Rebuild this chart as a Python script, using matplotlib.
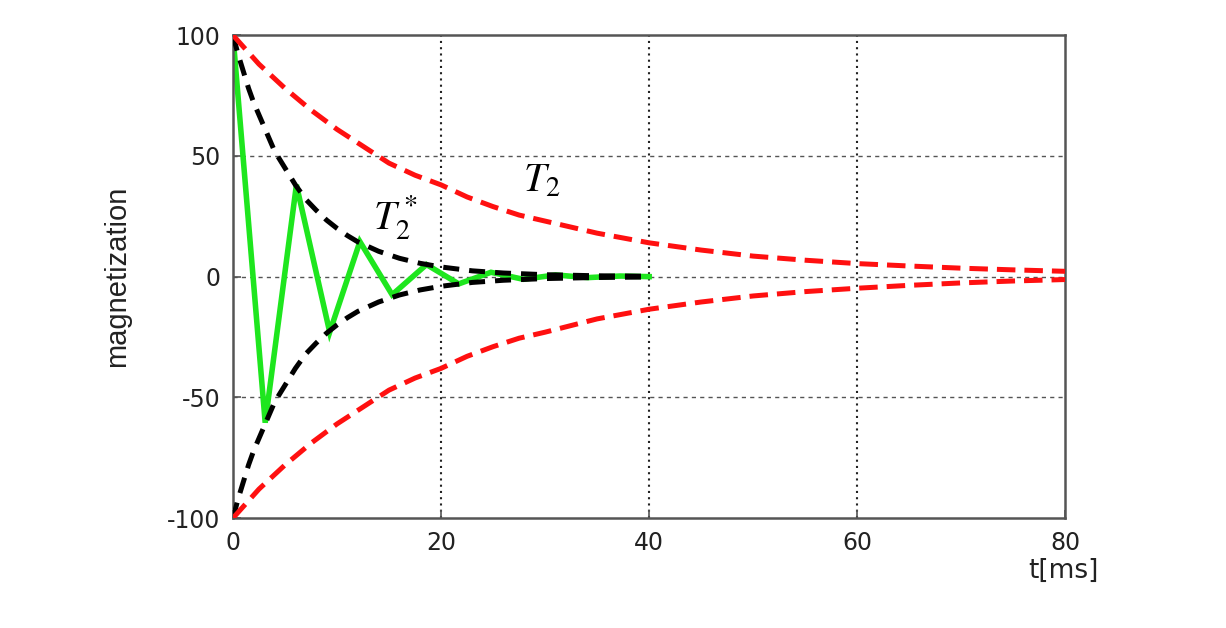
import matplotlib
matplotlib.use("Agg")
import matplotlib.pyplot as plt

# ---- data ----
t_red = [0, 2.5, 5, 7.5, 10, 12.5, 15, 17.5, 20, 22.5, 25, 27.5, 30, 35, 40, 45, 50, 55, 60, 65, 70, 75, 80]
red_upper = [100, 88, 78, 69, 61, 54, 47, 42, 38, 33, 29, 25.5, 23, 18, 14, 11, 8.5, 6.8, 5.4, 4.4, 3.5, 2.8, 2.2]
red_lower = [-100, -88, -78, -69, -61, -54, -47, -42, -38, -33, -29, -25.5, -23, -17.5, -13.5, -10.5, -8, -6.2, -4.8, -3.6, -2.6, -1.8, -1.2]

t_black = [0, 0.5, 1, 1.5, 2, 3, 4, 5, 6, 7, 8, 9, 10, 11, 12, 14, 16, 18, 20, 23, 26, 30, 35, 40]
black_upper = [100, 92, 85, 78, 72, 62, 52, 45, 38, 32, 27.5, 23.4, 20, 17, 14.4, 10.5, 7.6, 5.5, 4, 2.4, 1.5, 0.8, 0.35, 0.16]
black_lower = [-v for v in black_upper]

t_green = [0, 3.1, 6.1, 9.3, 12.2, 15.3, 18.6, 21.7, 24.8, 27.9, 31, 34.1, 37.2, 40]
green = [100, -60.5, 38, -23, 14.5, -7.5, 5, -3, 1.8, -1.1, 0.7, -0.4, 0.25, 0]

xticks = [0, 20, 40, 60, 80]
yticks = [-100, -50, 0, 50, 100]

fig = plt.figure(figsize=(12.26, 6.28), dpi=100)
ax = fig.add_axes([0.190, 0.175, 0.679, 0.769])

# grid
for yv in [-50, 0, 50]:
    ax.axhline(yv, color="#555555", lw=1.0, ls=(0, (3, 3)), zorder=1)
for xv in [20, 40, 60]:
    ax.axvline(xv, color="#222222", lw=1.5, ls=(0, (1, 2.0)), zorder=1)

ax.plot(t_green, green, color="#1ee61e", lw=4.0, zorder=2, solid_joinstyle="miter")
ax.plot(t_black, black_upper, color="black", lw=3.6, ls=(0, (3.2, 2.0)), zorder=3)
ax.plot(t_black, black_lower, color="black", lw=3.6, ls=(0, (3.2, 2.0)), zorder=3)
ax.plot(t_red, red_upper, color="#ff1010", lw=3.6, ls=(0, (3.7, 1.8)), zorder=4)
ax.plot(t_red, red_lower, color="#ff1010", lw=3.6, ls=(0, (3.7, 1.8)), zorder=4)

ax.set_xlim(0, 80)
ax.set_ylim(-100, 100)
ax.set_xticks(xticks)
ax.set_yticks(yticks)
ax.set_xticklabels([str(v) for v in xticks])
ax.set_yticklabels([str(v) for v in yticks])

for s in ax.spines.values():
    s.set_color("#555555")
    s.set_linewidth(1.8)

ax.tick_params(direction="in", length=6, width=1.2, color="#555555",
               labelsize=17, labelcolor="#222222", pad=9)
for lab in ax.get_xticklabels() + ax.get_yticklabels():
    lab.set_family("DejaVu Sans")
    lab.set_weight("medium")

ax.set_xlabel("t[ms]", fontsize=19, family="DejaVu Sans", color="#222222", ha="right")
ax.xaxis.set_label_coords(1.040, -0.082)
ax.set_ylabel("magnetization", fontsize=21, family="Liberation Sans", color="#222222")
ax.yaxis.set_label_coords(-0.122, 0.5)

plt.rcParams["mathtext.fontset"] = "stix"
ax.text(13.5, 19.5, r"$T_2^*$", fontsize=29, color="black", zorder=5)
ax.text(27.9, 35.2, r"$T_2$", fontsize=29, color="black", zorder=5)

fig.savefig("out.png", dpi=100)
